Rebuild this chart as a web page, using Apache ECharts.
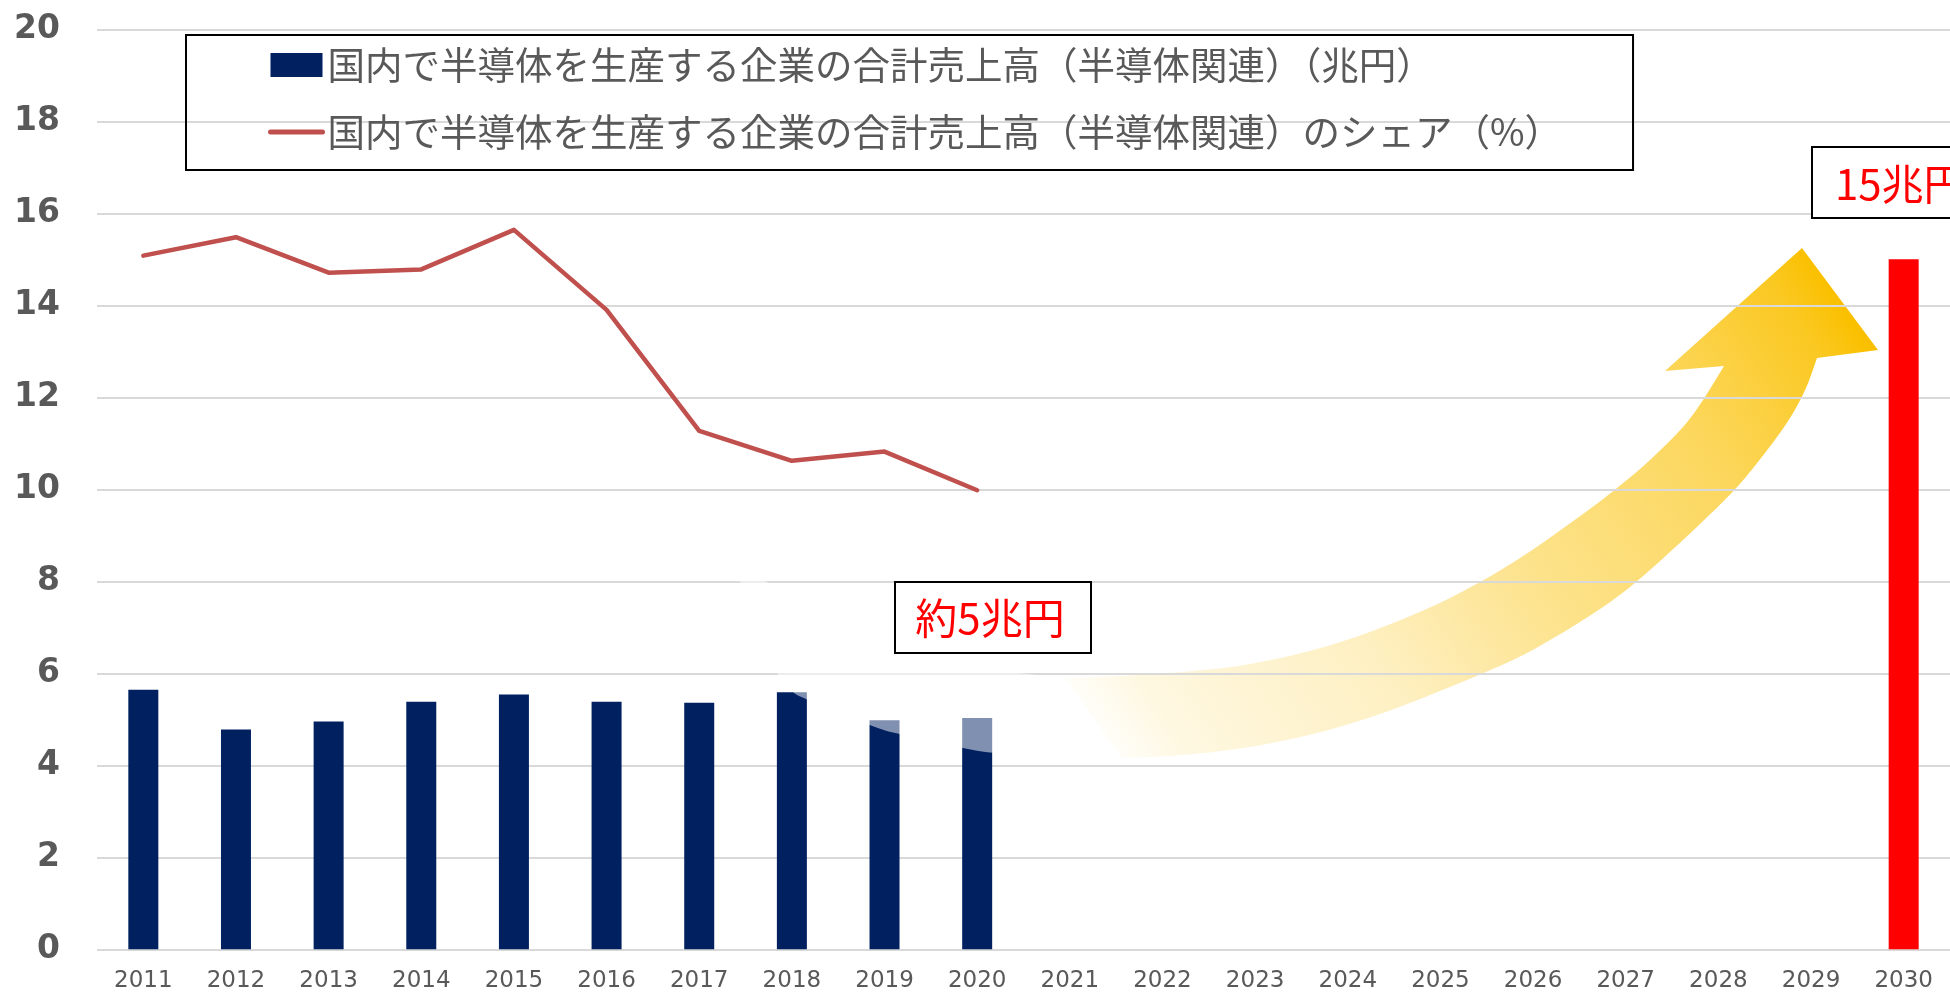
<!DOCTYPE html>
<html>
<head>
<meta charset="utf-8">
<script src="https://cdn.jsdelivr.net/npm/echarts@6/dist/echarts.min.js"></script>
<style>
  html, body { margin: 0; padding: 0; background: #fff; }
  #chart { width: 1950px; height: 995px; }
</style>
</head>
<body>
<div id="chart"></div>
<script>
  // data
  var years = ['2011', '2012', '2013', '2014', '2015', '2016', '2017', '2018', '2019', '2020',
    '2021', '2022', '2023', '2024', '2025', '2026', '2027', '2028', '2029', '2030'];
  var salesValues = [5.64, 4.78, 4.95, 5.38, 5.54, 5.38, 5.36, 5.59, 4.98, 5.03,
    null, null, null, null, null, null, null, null, null, 15.0];
  var shareValues = [15.08, 15.48, 14.71, 14.78, 15.64, 13.90, 11.27, 10.62, 10.82, 9.98];
  var yMin = 0, yMax = 20, yStep = 2;
  var targetYear = '2030';

  var salesName = '国内で半導体を生産する企業の合計売上高（半導体関連）（兆円）';
  var shareName = '国内で半導体を生産する企業の合計売上高（半導体関連）のシェア（%）';
  var nowLabel = '約5兆円';
  var targetLabel = '15兆円';

  var navy = '#002060';
  var red = '#FF0000';
  var lineRed = '#C0504D';
  var grey = '#595959';
  var jp = '"Noto Sans CJK JP", sans-serif';

  // decorative arrow outline (pixels), tail -> head
  var arrowUpper = [[1065, 678], [1120, 676], [1193, 671], [1250, 664], [1317, 649], [1383, 627],
    [1450, 598], [1517, 560], [1583, 514], [1617, 488], [1650, 460], [1683, 427], [1703, 400],
    [1724, 366]];
  var arrowLower = [[1122, 758], [1183, 755], [1250, 747], [1317, 733], [1383, 713], [1450, 687],
    [1513, 660], [1550, 640], [1583, 620], [1617, 597], [1650, 570], [1700, 524], [1738, 486],
    [1768, 449], [1790, 418], [1806, 388], [1817, 358]];
  var arrowHead = [[1665, 371], [1802, 248], [1878, 350]];

  function smoothEdge(pts, steps) {
    var out = [];
    var n = pts.length;
    for (var i = 0; i < n - 1; i++) {
      var p0 = pts[Math.max(i - 1, 0)], p1 = pts[i], p2 = pts[i + 1], p3 = pts[Math.min(i + 2, n - 1)];
      for (var s = 0; s < steps; s++) {
        var t = s / steps, t2 = t * t, t3 = t2 * t;
        out.push([0, 1].map(function (k) {
          return 0.5 * ((2 * p1[k]) + (-p0[k] + p2[k]) * t +
            (2 * p0[k] - 5 * p1[k] + 4 * p2[k] - p3[k]) * t2 +
            (-p0[k] + 3 * p1[k] - 3 * p2[k] + p3[k]) * t3);
        }));
      }
    }
    out.push(pts[n - 1]);
    return out;
  }

  var arrowPoints = smoothEdge(arrowUpper, 5)
    .concat(arrowHead)
    .concat(smoothEdge(arrowLower, 5).reverse());

  // faint white tail lying over the last bars
  var tailPoints = smoothEdge([[740, 578], [767, 582], [830, 615], [897, 652], [980, 668], [1065, 678]], 6)
    .concat(smoothEdge([[1122, 759], [1070, 758], [997, 753], [968, 749], [904, 735], [875, 727],
      [811, 701], [793, 692], [777, 673], [745, 640]], 6));

  function gold(a) { return 'rgba(250,192,0,' + a + ')'; }

  var barData = salesValues.map(function (v, i) {
    return years[i] === targetYear ? { value: v, itemStyle: { color: red } } : v;
  });

  var myChart = echarts.init(document.getElementById('chart'));
  myChart.setOption({
    backgroundColor: '#fff',
    animation: false,
    legend: {
      orient: 'vertical',
      left: 186,
      top: 35,
      borderColor: '#000',
      borderWidth: 2,
      padding: [10, 71, 18, 82],
      itemGap: 27,
      itemWidth: 52,
      itemHeight: 24,
      textStyle: { fontSize: 37.5, color: grey, fontFamily: jp, lineHeight: 40 },
      data: [
        { name: salesName, icon: 'rect' },
        { name: shareName, itemStyle: { opacity: 0 }, lineStyle: { width: 5, cap: 'round' } }
      ]
    },
    grid: { left: 97, top: 29.3, width: 1865, height: 920 },
    xAxis: {
      type: 'category',
      data: years,
      axisLine: { show: false },
      axisTick: { show: false },
      axisLabel: { fontSize: 23, color: grey, fontFamily: 'DejaVu Sans', margin: 20 }
    },
    yAxis: {
      type: 'value',
      min: yMin,
      max: yMax,
      interval: yStep,
      axisLine: { show: false },
      axisTick: { show: false },
      axisLabel: { fontSize: 33, fontWeight: 'bold', color: grey, fontFamily: 'DejaVu Sans', margin: 37, padding: [0, 0, 6, 0] },
      splitLine: { lineStyle: { color: '#D9D9D9', width: 2 } }
    },
    series: [
      {
        name: salesName,
        type: 'bar',
        barWidth: 30,
        data: barData,
        itemStyle: { color: navy }
      },
      {
        name: shareName,
        type: 'line',
        data: shareValues,
        symbol: 'none',
        z: 3,
        lineStyle: { color: lineRed, width: 4.5, join: 'round', cap: 'round' },
        itemStyle: { color: lineRed }
      }
    ],
    graphic: [
      {
        type: 'polygon',
        z: -1,
        silent: true,
        shape: { points: arrowPoints },
        style: {
          fill: new echarts.graphic.LinearGradient(1096, 718, 1802, 248, [
            { offset: 0, color: gold(0.03) },
            { offset: 0.07, color: gold(0.12) },
            { offset: 0.31, color: gold(0.24) },
            { offset: 0.53, color: gold(0.46) },
            { offset: 0.77, color: gold(0.63) },
            { offset: 0.95, color: gold(0.87) },
            { offset: 1, color: gold(1) }
          ], true)
        }
      },
      {
        type: 'polygon',
        z: 5,
        silent: true,
        shape: { points: tailPoints },
        style: { fill: 'rgba(255,255,255,0.5)' }
      },
      {
        type: 'rect',
        z: 10,
        shape: { x: 895, y: 582, width: 196, height: 71 },
        style: { fill: '#fff', stroke: '#000', lineWidth: 2 }
      },
      {
        type: 'text',
        z: 11,
        style: {
          x: 990, y: 618, text: nowLabel, fill: red, font: '42px ' + jp,
          textAlign: 'center', textVerticalAlign: 'middle', align: 'center', verticalAlign: 'middle'
        }
      },
      {
        type: 'rect',
        z: 10,
        shape: { x: 1812, y: 147, width: 220, height: 71 },
        style: { fill: '#fff', stroke: '#000', lineWidth: 2 }
      },
      {
        type: 'text',
        z: 11,
        style: {
          x: 1835, y: 184, text: targetLabel, fill: red, font: '42px ' + jp,
          textAlign: 'left', textVerticalAlign: 'middle', align: 'left', verticalAlign: 'middle'
        }
      }
    ]
  });
</script>
</body>
</html>
